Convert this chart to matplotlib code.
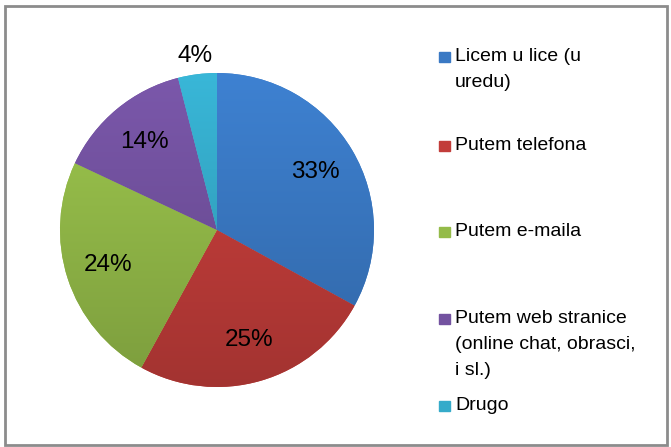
import matplotlib
matplotlib.use("Agg")
import matplotlib.pyplot as plt
import numpy as np
from matplotlib.colors import LinearSegmentedColormap, to_rgb
from matplotlib.patches import Rectangle

# survey answers, clockwise from 12 o'clock
labels = [
    "Licem u lice (u\nuredu)",
    "Putem telefona",
    "Putem e-maila",
    "Putem web stranice\n(online chat, obrasci,\ni sl.)",
    "Drugo",
]
shares = [33, 25, 24, 14, 4]
colors = ["#3A79C4", "#C23D3A", "#94BB49", "#7352A0", "#35ABCA"]

plt.rcParams["font.family"] = ["Liberation Sans", "DejaVu Sans"]

W, H = 671, 447
fig = plt.figure(figsize=(W / 100, H / 100), dpi=100)

# chart frame
fig.patches.append(Rectangle((5 / W, 2 / H), (W - 9) / W, (H - 8) / H,
                             transform=fig.transFigure, fill=False,
                             edgecolor="#8C8C8C", linewidth=2))

cx, cy, r = 217, 230, 157
ax = fig.add_axes([(cx - r) / W, (H - cy - r) / H, 2 * r / W, 2 * r / H])
wedges, texts, autotexts = ax.pie(
    shares, colors=colors, startangle=90, counterclock=False,
    autopct="%d%%", pctdistance=0.73,
    wedgeprops=dict(linewidth=0), textprops=dict(fontsize=17.5, color="black"),
)
# small slice label sits outside the pie
x4, y4 = autotexts[-1].get_position()
autotexts[-1].set_position((x4 / 0.73 * 1.12, y4 / 0.73 * 1.12))

# vertical shading, lighter on top like the Office 2007 fills
grad = np.linspace(0, 1, 256).reshape(-1, 1)
for w, col in zip(wedges, colors):
    base = np.array(to_rgb(col))
    cmap = LinearSegmentedColormap.from_list(
        "g", [base * 0.84, np.clip(base * 1.07, 0, 1)])
    im = ax.imshow(grad, extent=(-1, 1, -1, 1), cmap=cmap, origin="lower",
                   aspect="auto", zorder=w.get_zorder() + 0.1)
    im.set_clip_path(w)
for t in autotexts:
    t.set_zorder(5)

ax.set_xlim(-1, 1)
ax.set_ylim(-1, 1)
ax.set_aspect("equal")
ax.axis("off")

# legend, Excel style: evenly spread entries on the right
entry_base = [62, 151, 237, 324, 411]
for lab, col, yb in zip(labels, colors, entry_base):
    fig.patches.append(Rectangle((439 / W, 1 - yb / H), 11 / W, 10 / H,
                                 transform=fig.transFigure, color=col))
    fig.text(455 / W, 1 - (yb - 14) / H, lab, fontsize=14, va="top",
             ha="left", linespacing=1.68)

fig.savefig("out.png", dpi=100)
